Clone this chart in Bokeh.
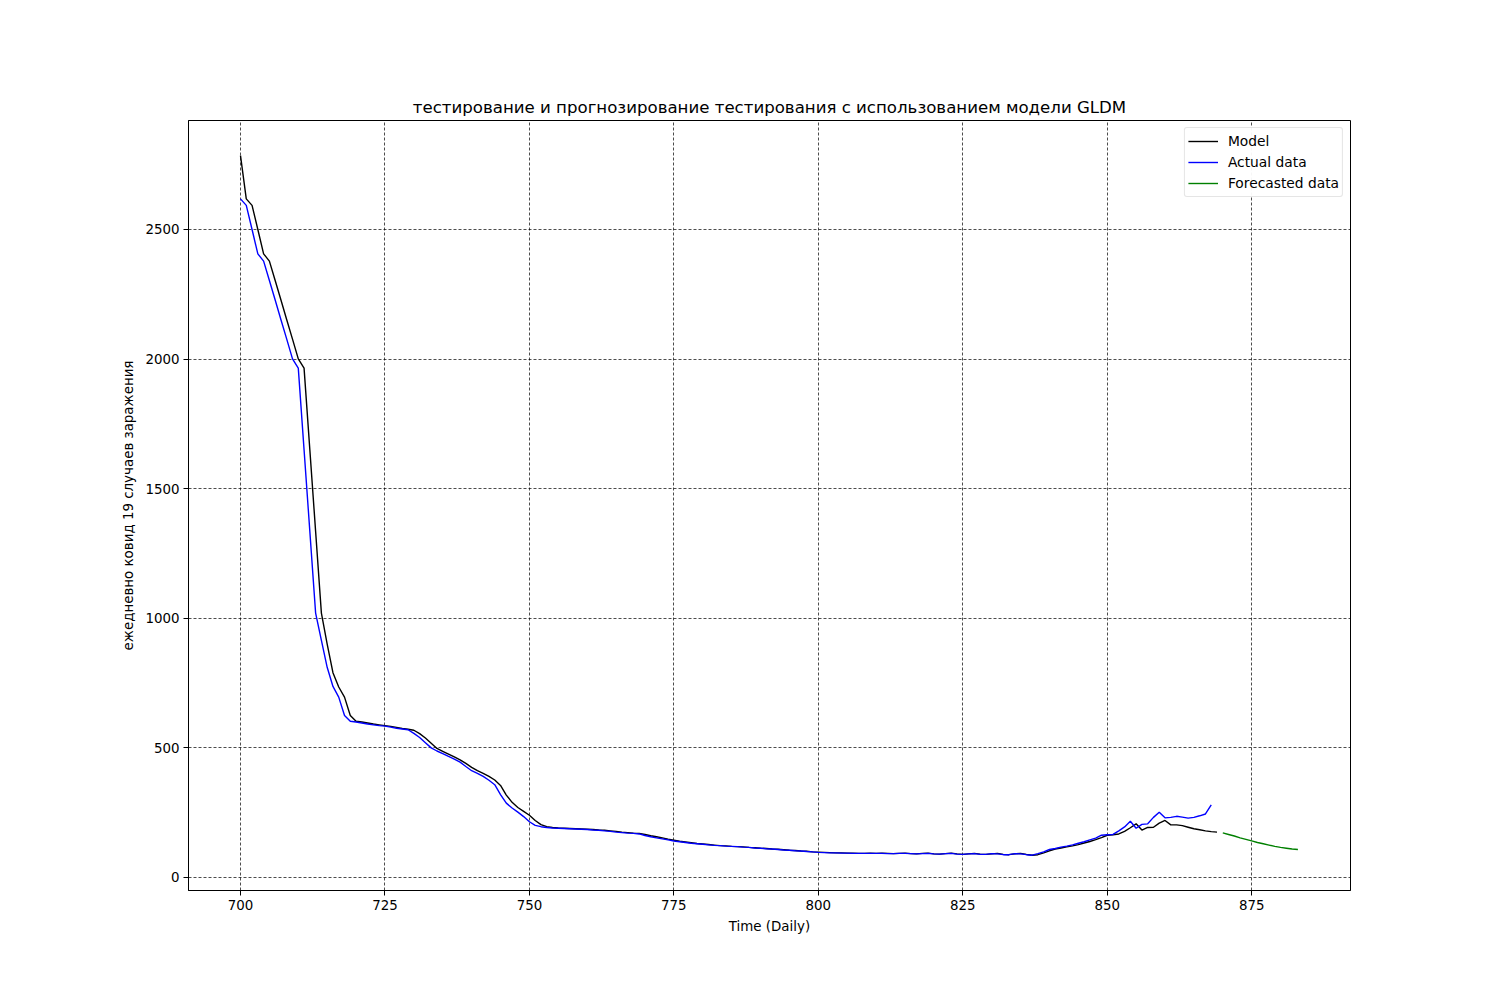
from bokeh.plotting import figure
from bokeh.models import Range1d, FixedTicker, Legend, LegendItem
from bokeh.embed import file_html
from bokeh.resources import INLINE

actual_start = 700
actual = [2618, 2593, 2500, 2406, 2378, 2303, 2228, 2152, 2077, 2001,
          1965, 1650, 1335, 1020, 915, 811, 737, 696, 625, 603,
          600, 596, 592, 589, 586, 584, 580, 576, 573, 570,
          556, 540, 520, 500, 488, 478, 467, 457, 445, 428,
          412, 402, 390, 375, 358, 320, 287, 268, 252, 235,
          215, 201, 196, 193, 191, 190, 189, 188, 187, 186,
          185, 183, 182, 180, 178, 175, 173, 171, 170, 168,
          162, 157, 153, 149, 145, 141, 138, 135, 132, 130,
          128, 126, 124, 123, 121, 120, 119, 117, 116, 114,
          113, 111, 110, 108, 106, 105, 103, 102, 100, 99,
          97, 96, 95, 95, 94, 94, 93, 93, 93, 93,
          93, 93, 92, 92, 93, 93, 92, 91, 92, 93,
          91, 90, 92, 93, 90, 89, 91, 92, 89, 89,
          92, 91, 88, 88, 92, 91, 88, 86, 92, 99,
          108, 112, 117, 121, 126, 132, 138, 145, 152, 163,
          165, 166, 180, 195, 217, 190, 205, 207, 232, 252,
          230, 232, 236, 233, 229, 232, 238, 245, 280]

model_start = 700
model = [2785, 2618, 2593, 2500, 2406, 2378, 2303, 2228, 2152, 2077,
         2001, 1965, 1650, 1335, 1020, 900, 790, 735, 696, 625,
         603, 600, 596, 592, 589, 586, 583, 579, 575, 572,
         568, 555, 538, 518, 498, 487, 476, 465, 454, 440,
         425, 412, 402, 390, 376, 355, 318, 290, 270, 255,
         240, 220, 204, 196, 193, 191, 190, 189, 188, 187,
         186, 185, 183, 182, 180, 178, 175, 173, 171, 170,
         166, 161, 157, 153, 148, 144, 140, 137, 134, 131,
         129, 127, 125, 123, 122, 120, 119, 118, 116, 115,
         113, 112, 110, 109, 107, 105, 104, 102, 101, 99,
         98, 97, 96, 95, 95, 94, 94, 93, 93, 94,
         93, 94, 93, 92, 93, 94, 92, 91, 93, 94,
         91, 90, 92, 94, 91, 89, 91, 93, 90, 89,
         91, 93, 89, 88, 91, 93, 89, 86, 88, 95,
         103, 110, 114, 118, 122, 127, 133, 139, 146, 154,
         163, 165, 168, 178, 192, 207, 183, 193, 194, 210,
         220, 203, 203, 200, 194, 188, 184, 180, 177, 175]

forecast_start = 870
forecast = [172, 166, 160, 153, 147, 141, 135, 130, 125, 120, 116, 113, 110, 108]

x_ticks = [700, 725, 750, 775, 800, 825, 850, 875]
y_ticks = [0, 500, 1000, 1500, 2000, 2500]

title = "тестирование и прогнозирование тестирования с использованием модели GLDM"
x_label = "Time (Daily)"
y_label = "ежедневно ковид 19 случаев заражения"

FONT = "DejaVu Sans"

p = figure(width=1492, height=992, output_backend="svg", toolbar_location=None,
           min_border_left=188, min_border_right=142, min_border_top=120,
           min_border_bottom=102,
           x_range=Range1d(691.0, 892.1), y_range=Range1d(-50.2, 2920.5))

p.title.text = title
p.title.align = "center"
p.title.text_font = FONT
p.title.text_font_size = "16.6px"
p.title.text_font_style = "normal"
p.title.text_color = "black"
p.title.offset = 0
p.title.standoff = 7

p.outline_line_color = "black"
p.outline_line_width = 1
p.outline_line_alpha = 1
p.background_fill_color = "white"
p.border_fill_color = "white"

for ax, ticks, lab in ((p.xaxis, x_ticks, x_label), (p.yaxis, y_ticks, y_label)):
    ax.ticker = FixedTicker(ticks=ticks)
    ax.axis_label = lab
    ax.axis_label_text_font = FONT
    ax.axis_label_text_font_size = "13.4px"
    ax.axis_label_text_font_style = "normal"
    ax.axis_label_text_color = "black"
    ax.major_label_text_font = FONT
    ax.major_label_text_font_size = "13.4px"
    ax.major_label_text_color = "black"
    ax.major_tick_out = 5
    ax.major_tick_in = 0
    ax.minor_tick_out = 0
    ax.minor_tick_in = 0
    ax.axis_line_color = "black"
    ax.major_tick_line_color = "black"
    ax.major_label_standoff = 4
    ax.axis_label_standoff = 6

p.yaxis.major_label_orientation = "horizontal"

for g in (p.xgrid, p.ygrid):
    g.grid_line_color = "black"
    g.grid_line_dash = "3 2"
    g.grid_line_width = 0.7

xa = list(range(actual_start, actual_start + len(actual)))
xm = list(range(model_start, model_start + len(model)))
xf = list(range(forecast_start, forecast_start + len(forecast)))

r_model = p.line(xm, model, line_color="black", line_width=1.4)
r_actual = p.line(xa, actual, line_color="blue", line_width=1.4)
r_fc = p.line(xf, forecast, line_color="green", line_width=1.4)

legend = Legend(items=[LegendItem(label="Model", renderers=[r_model]),
                       LegendItem(label="Actual data", renderers=[r_actual]),
                       LegendItem(label="Forecasted data", renderers=[r_fc])],
                location="top_right")
legend.label_text_font = FONT
legend.label_text_font_size = "13.8px"
legend.label_text_color = "black"
legend.border_line_color = "#cccccc"
legend.border_line_width = 1
legend.border_radius = 3
legend.glyph_width = 30
legend.glyph_height = 20
legend.label_height = 20
legend.spacing = 1
legend.padding = 3
legend.margin = 7
legend.label_standoff = 10
p.add_layout(legend)

open("out.html", "w").write(file_html(p, INLINE))
